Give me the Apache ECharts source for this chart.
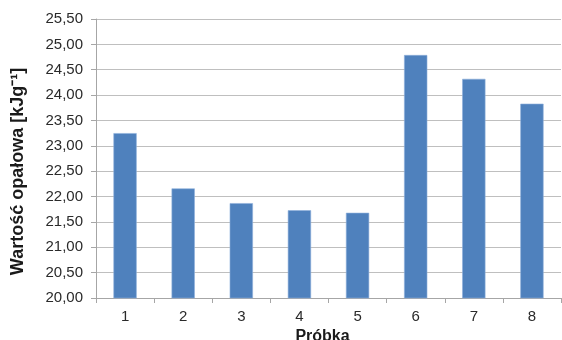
<!DOCTYPE html>
<html>
<head>
<meta charset="utf-8">
<script src="https://cdn.jsdelivr.net/npm/echarts@6/dist/echarts.min.js"></script>
<style>
  html, body { margin: 0; padding: 0; background: #fff; }
  #chart { width: 562px; height: 340px; }
</style>
</head>
<body>
<div id="chart"></div>
<script>
// Sample numbers and their calorific values
const samples = ['1', '2', '3', '4', '5', '6', '7', '8'];
const calorificValues = [23.25, 22.16, 21.87, 21.73, 21.68, 24.79, 24.32, 23.83];
const yMin = 20, yMax = 25.5, yStep = 0.5;

const chart = echarts.init(document.getElementById('chart'));
const font = '"Liberation Sans", Arial, sans-serif';
chart.setOption({
  animation: false,
  grid: { left: 96, right: 1, top: 19, bottom: 42, outerBoundsMode: 'none', containLabel: false },
  xAxis: {
    type: 'category',
    data: samples,
    name: 'Próbka',
    nameLocation: 'middle',
    nameGap: 27,
    nameTextStyle: { fontFamily: font, fontSize: 16, fontWeight: 'bold', color: '#1a1a1a', padding: [0, 12, 0, 0] },
    axisLine: { lineStyle: { color: '#a6a6a6', width: 1 } },
    axisTick: { show: true, length: 5, lineStyle: { color: '#a6a6a6' } },
    axisLabel: { fontFamily: font, fontSize: 15, color: '#2a2a2a', margin: 11 }
  },
  yAxis: {
    type: 'value',
    min: yMin,
    max: yMax,
    interval: yStep,
    name: 'Wartość opałowa [kJg⁻¹]',
    nameLocation: 'middle',
    nameGap: 69,
    nameTextStyle: { fontFamily: font, fontSize: 18, fontWeight: 'bold', color: '#1a1a1a', padding: [0, 26, 0, 0] },
    axisLine: { show: true, lineStyle: { color: '#a6a6a6', width: 1 } },
    axisTick: { show: true, length: 5, lineStyle: { color: '#a6a6a6' } },
    axisLabel: {
      fontFamily: font, fontSize: 15, color: '#2a2a2a', margin: 13,
      formatter: v => v.toFixed(2).replace('.', ',')
    },
    splitLine: { lineStyle: { color: '#bfbfbf', width: 1 } }
  },
  series: [{
    type: 'bar',
    data: calorificValues,
    barCategoryGap: '60%',
    itemStyle: { color: '#4f81bd', borderColor: '#8fb0dc', borderWidth: 0.6 }
  }]
});
</script>
</body>
</html>
